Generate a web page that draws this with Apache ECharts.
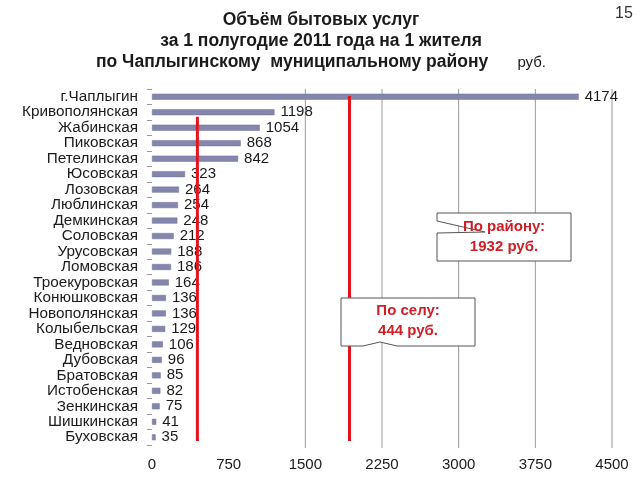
<!DOCTYPE html>
<html><head><meta charset="utf-8">
<script src="https://cdn.jsdelivr.net/npm/echarts@6/dist/echarts.min.js"></script>
<style>html,body{margin:0;padding:0;background:#fff}#c{width:640px;height:480px}</style>
</head><body><div id="c"></div>
<script>
const categories = ['г.Чаплыгин','Кривополянская','Жабинская','Пиковская','Петелинская','Юсовская','Лозовская','Люблинская','Демкинская','Соловская','Урусовская','Ломовская','Троекуровская','Конюшковская','Новополянская','Колыбельская','Ведновская','Дубовская','Братовская','Истобенская','Зенкинская','Шишкинская','Буховская'];
const values = [4174,1198,1054,868,842,323,264,254,248,212,188,186,164,136,136,129,106,96,85,82,75,41,35];
const xTicks = [0,750,1500,2250,3000,3750,4500];
const gridValues = [1500,2250,3000,3750,4500];
const districtAvg = 1932;
const ruralAvg = 444;
const districtSpan = [0.45, 22.74];
const ruralSpan = [1.8, 22.74];
const gridSpan = [0, 23.2];

const chart = echarts.init(document.getElementById('c'), null, {renderer:'canvas'});
const FONT = 'Liberation Sans, Arial, sans-serif';
const series = [{
  type:'bar', xAxisIndex:0, yAxisIndex:0, data: values, barWidth:6,
  itemStyle:{color:'#8586ad', borderColor:'#6f7094', borderWidth:0.5},
  label:{show:true, position:'right', distance:6, color:'#1a1a1a', fontSize:15, fontFamily:FONT},
  z:3
}];
gridValues.forEach(v => series.push({
  type:'line', xAxisIndex:0, yAxisIndex:1, data:[[v,gridSpan[0]],[v,gridSpan[1]]],
  symbol:'none', clip:false, lineStyle:{color:'#9a9a9a', width:1}, z:1, silent:true
}));
[[districtAvg, districtSpan],[ruralAvg, ruralSpan]].forEach(([v,s]) => series.push({
  type:'line', xAxisIndex:0, yAxisIndex:1, data:[[v,s[0]],[v,s[1]]],
  symbol:'none', clip:false, lineStyle:{color:'#e3141c', width:3}, z:10, silent:true
}));

chart.setOption({
  animation:false,
  textStyle:{fontFamily:FONT},
  title:{
    left:316, top:5, textAlign:'center',
    text:'Объём бытовых услуг\nза 1 полугодие 2011 года на 1 жителя\nпо Чаплыгинскому  муниципальному району      {s|руб.}',
    textStyle:{fontSize:17.5, fontWeight:'bold', color:'#1a1a1a', lineHeight:21, fontFamily:FONT,
      rich:{s:{fontSize:15, fontWeight:'normal', color:'#1a1a1a', fontFamily:FONT}}}
  },
  grid:{left:152, right:28, top:89, bottom:35, containLabel:false},
  xAxis:{type:'value', min:0, max:4500, interval:750,
    axisLine:{show:false}, axisTick:{show:false}, splitLine:{show:false},
    axisLabel:{fontSize:15, color:'#1a1a1a', margin:12, fontFamily:FONT, formatter: v => String(v)}},
  yAxis:[{type:'category', data:categories, inverse:true,
    axisLine:{show:false}, axisTick:{show:true, length:5, lineStyle:{color:'#999'}},
    axisLabel:{interval:0, fontSize:15.3, color:'#1a1a1a', margin:14, fontFamily:FONT}},
    {type:'value', min:0, max:23, inverse:true, show:false}],
  series: series,
  graphic:[
    {type:'text', left:615, top:6, z:20, style:{text:'15', fontSize:16, fill:'#333', fontFamily:FONT}},
    {type:'polygon', shape:{points:[[437,213],[571,213],[571,261],[437,261],[437,233],[485,232],[437,221]]},
      style:{fill:'#fff', stroke:'#555', lineWidth:1}, z:20},
    {type:'text', x:504, y:237, style:{text:'По району:\n1932 руб.', align:'center', verticalAlign:'middle', fontSize:15, fontWeight:'bold', fill:'#cc1f26', lineHeight:20, fontFamily:FONT}, z:21},
    {type:'polygon', shape:{points:[[341,298],[475,298],[475,346],[397,346],[380,342],[363,346],[341,346]]},
      style:{fill:'#fff', stroke:'#555', lineWidth:1}, z:20},
    {type:'text', x:408, y:321, style:{text:'По селу:\n444 руб.', align:'center', verticalAlign:'middle', fontSize:15, fontWeight:'bold', fill:'#cc1f26', lineHeight:20, fontFamily:FONT}, z:21}
  ]
});
</script></body></html>
